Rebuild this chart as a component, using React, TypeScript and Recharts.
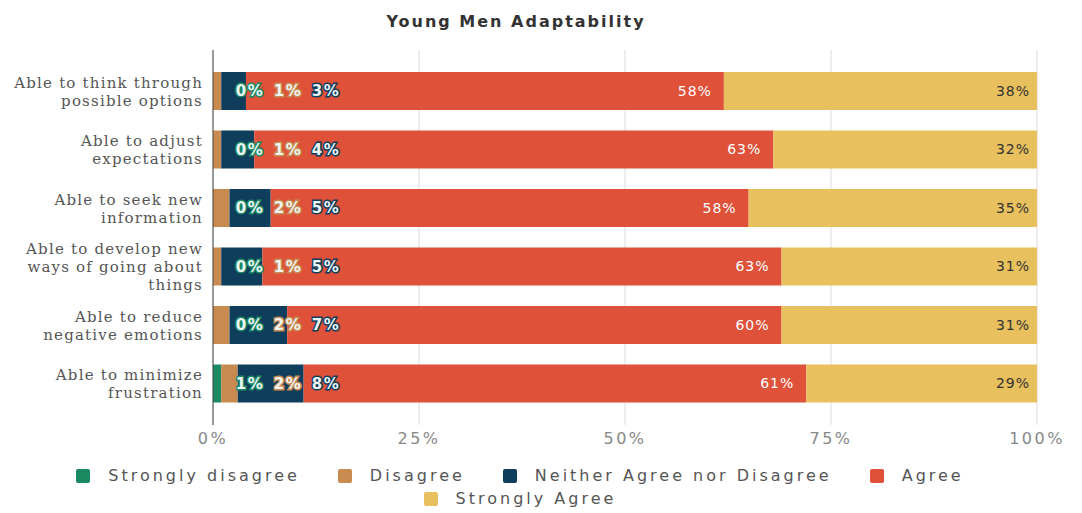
import React from 'react';
import { BarChart, Bar, XAxis, YAxis, CartesianGrid, LabelList } from 'recharts';

const categories = [
  'Able to think through possible options',
  'Able to adjust expectations',
  'Able to seek new information',
  'Able to develop new ways of going about things',
  'Able to reduce negative emotions',
  'Able to minimize frustration',
];

const stronglyDisagree = [0, 0, 0, 0, 0, 1];
const disagree = [1, 1, 2, 1, 2, 2];
const neither = [3, 4, 5, 5, 7, 8];
const agree = [58, 63, 58, 63, 60, 61];
const stronglyAgree = [38, 32, 35, 31, 31, 29];

const xTicks = [0, 25, 50, 75, 100];

const seriesKeys = ['sd', 'd', 'n', 'a', 'sa'];
const seriesNames = ['Strongly disagree', 'Disagree', 'Neither Agree nor Disagree', 'Agree', 'Strongly Agree'];
const seriesColors = ['#1b8a63', '#c98a4f', '#0f3d5c', '#e0513a', '#e9c05e'];

const data = categories.map((name, i) => ({
  name,
  sd: stronglyDisagree[i],
  d: disagree[i],
  n: neither[i],
  a: agree[i],
  sa: stronglyAgree[i],
}));

const SANS = '"DejaVu Sans", sans-serif';
const SERIF = '"DejaVu Serif", serif';
const PLOT_LEFT = 213;

const wrap = (text: string, max: number) => {
  const words = text.split(' ');
  const lines: string[] = [];
  let cur = '';
  words.forEach((w) => {
    if (cur && (cur + ' ' + w).length > max) {
      lines.push(cur);
      cur = w;
    } else {
      cur = cur ? cur + ' ' + w : w;
    }
  });
  if (cur) lines.push(cur);
  return lines;
};

const CategoryTick = (props: any) => {
  const { x, y, payload } = props;
  const lines = wrap(payload.value, 21);
  const lh = 18;
  const start = y - ((lines.length - 1) * lh) / 2;
  return (
    <text x={x} y={start} textAnchor="end" fill="#555" fontFamily={SERIF} fontSize={15} style={{ letterSpacing: 1.2 }}>
      {lines.map((l, i) => (
        <tspan key={i} x={x} y={start + i * lh} dy="0.35em">{l}</tspan>
      ))}
    </text>
  );
};

// the three small shares of a row are drawn side by side near the bar start
// (zero-width segments draw no labels of their own, so the row draws them)
const SmallLabels = (props: any) => {
  const { y, height, index } = props;
  const row = data[index];
  const vals = [row.sd, row.d, row.n];
  return (
    <g>
      {vals.map((v, i) => (
        <text
          key={i}
          x={PLOT_LEFT + 37 + 38 * i}
          y={y + height / 2}
          textAnchor="middle"
          dominantBaseline="central"
          fill="#eef5f7"
          stroke={seriesColors[i]}
          strokeWidth={3}
          paintOrder="stroke"
          fontFamily={SANS}
          fontSize={15}
          fontWeight="bold"
          style={{ letterSpacing: 1.5 }}
        >
          {v}%
        </text>
      ))}
    </g>
  );
};

const App = () => {
  return (
    <div style={{ position: 'absolute', top: 0, left: 0, width: 1082, height: 513, background: '#fff' }}>
      <div
        style={{
          position: 'absolute', top: 12, left: 0, width: 1032, textAlign: 'center',
          fontFamily: SANS, fontWeight: 'bold', fontSize: 16, color: '#333', letterSpacing: 2, lineHeight: '20px',
        }}
      >
        Young Men Adaptability
      </div>
      <div style={{ position: 'absolute', top: 0, left: 0 }}>
        <BarChart width={1082} height={455} data={data} layout="vertical" margin={{ top: 50, right: 45, left: 0, bottom: 0 }}>
          <CartesianGrid horizontal={false} stroke="#dcdcdc" />
          <XAxis
            type="number"
            domain={[0, 100]}
            ticks={xTicks}
            allowDataOverflow
            axisLine={false}
            tickLine={false}
            height={30}
            tickFormatter={(v) => `${v}%`}
            tick={{ fill: '#888', fontSize: 16, fontFamily: SANS, style: { letterSpacing: 2.5 } }}
          />
          <YAxis
            type="category"
            dataKey="name"
            width={213}
            padding={{ top: 12, bottom: 12 }}
            axisLine={{ stroke: '#444' }}
            tickLine={false}
            tickSize={0}
            tickMargin={10}
            tick={<CategoryTick />}
          />
          {seriesKeys.map((key, i) => (
            <Bar key={key} dataKey={key} name={seriesNames[i]} stackId="s" fill={seriesColors[i]} barSize={38} isAnimationActive={false}>
              {i === 3 && <LabelList dataKey={key} content={<SmallLabels />} />}
              {i === 3 && (
                <LabelList dataKey={key} position="insideRight" offset={12} formatter={(v: any) => `${v}%`}
                  style={{ fill: '#fff', fontSize: 14, fontFamily: SANS, letterSpacing: 1 }} />
              )}
              {i === 4 && (
                <LabelList dataKey={key} position="insideRight" offset={7} formatter={(v: any) => `${v}%`}
                  style={{ fill: '#333', fontSize: 14, fontFamily: SANS, letterSpacing: 1 }} />
              )}
            </Bar>
          ))}
        </BarChart>
      </div>
      <div style={{ position: 'absolute', top: 466, left: 0, width: 1040, display: 'flex', justifyContent: 'center' }}>
        <div style={{ width: 935, display: 'flex', flexWrap: 'wrap', justifyContent: 'center', rowGap: 3 }}>
          {seriesNames.map((n, i) => (
            <div key={n} style={{ display: 'flex', alignItems: 'center', margin: '0 19px' }}>
              <span style={{ width: 14, height: 14, borderRadius: 2, background: seriesColors[i], marginRight: 18, display: 'inline-block' }} />
              <span style={{ fontFamily: SANS, fontSize: 16, color: '#555', letterSpacing: 3, lineHeight: '20px' }}>{n}</span>
            </div>
          ))}
        </div>
      </div>
    </div>
  );
};

export default App;
